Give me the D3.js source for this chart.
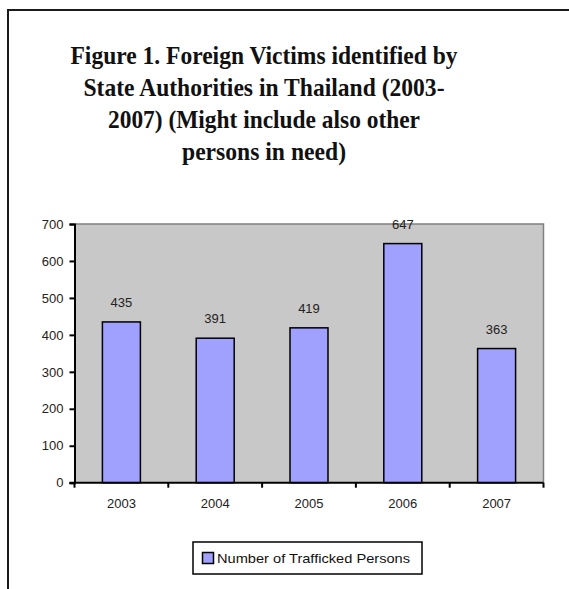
<!DOCTYPE html>
<html><head><meta charset="utf-8">
<script src="https://cdn.jsdelivr.net/npm/d3@7"></script>
<style>html,body{margin:0;padding:0;background:#fff;}
.sans{font-family:"Liberation Sans",Arial,sans-serif;}
.serif{font-family:"Liberation Serif","Times New Roman",serif;}
</style>
</head><body>
<svg id="c" width="569" height="589"></svg>
<script>
const years = ["2003","2004","2005","2006","2007"];
const victims = [435, 391, 419, 647, 363];
const yTicks = [0,100,200,300,400,500,600,700];
const titleLines = ["Figure 1. Foreign Victims identified by","State Authorities in Thailand (2003-","2007) (Might include also other","persons in need)"];
const titleWidths = [387, 361, 312, 164];
const seriesName = "Number of Trafficked Persons";

const svg = d3.select("#c");
// outer frame
svg.append("path").attr("d","M8,589 L8,10 L569,10").attr("fill","none").attr("stroke","#1a1a1a").attr("stroke-width",2);

// title
const title = svg.append("text").attr("class","serif")
  .style("font-weight","bold").style("font-size","25px").attr("fill","#111").attr("text-anchor","middle");
titleLines.forEach((t,i)=>{
  title.append("tspan").attr("x",264).attr("y",64+i*32).text(t)
    .attr("textLength",titleWidths[i]).attr("lengthAdjust","spacingAndGlyphs");
});

const L=74.5, R=543.5, T=224, B=482.7;
const x = d3.scaleBand().domain(years).range([L,R]).paddingInner(0.595).paddingOuter(0.2975);
const y = d3.scaleLinear().domain([0,700]).range([B,T]);

// plot area
svg.append("rect").attr("x",L).attr("y",T).attr("width",R-L).attr("height",B-T).attr("fill","#c8c8c8");
svg.append("path").attr("d",`M${L},${T} L${R},${T} L${R},${B}`).attr("fill","none").attr("stroke","#808080").attr("stroke-width",1.5);

// bars
svg.selectAll("rect.bar").data(victims).join("rect").attr("class","bar")
  .attr("x",(d,i)=>x(years[i])).attr("width",x.bandwidth())
  .attr("y",d=>y(d)).attr("height",d=>B-y(d))
  .attr("fill","#a0a0ff").attr("stroke","#000").attr("stroke-width",1.5);

// value labels
svg.selectAll("text.val").data(victims).join("text").attr("class","val sans")
  .attr("x",(d,i)=>x(years[i])+x.bandwidth()/2).attr("y",d=>y(d)-15)
  .attr("text-anchor","middle").style("font-size","13px").attr("fill","#222").text(d=>d);

// y axis
const yAxis = svg.append("g").attr("transform",`translate(${L},0)`)
  .call(d3.axisLeft(y).tickValues(yTicks).tickSize(5).tickPadding(6).tickFormat(d3.format("d")));
yAxis.select(".domain").attr("stroke","#000").attr("stroke-width",2);
yAxis.selectAll(".tick line").attr("stroke","#000").attr("stroke-width",2);
yAxis.selectAll(".tick text").attr("class","sans").style("font-size","13px").attr("fill","#222");

// x axis
const xAxis = svg.append("g").attr("transform",`translate(0,${B})`)
  .call(d3.axisBottom(x).tickSize(0).tickPadding(16));
xAxis.select(".domain").remove();
xAxis.selectAll(".tick text").attr("class","sans").style("font-size","13px").attr("fill","#222");
svg.append("line").attr("x1",L-5).attr("x2",R).attr("y1",B).attr("y2",B).attr("stroke","#000").attr("stroke-width",2);
const step = x.step();
svg.selectAll("line.xt").data(d3.range(years.length+1)).join("line").attr("class","xt")
  .attr("x1",i=>L+i*step).attr("x2",i=>L+i*step).attr("y1",B).attr("y2",B+5)
  .attr("stroke","#000").attr("stroke-width",2);

// legend
const lg = svg.append("g");
lg.append("rect").attr("x",193).attr("y",542).attr("width",229).attr("height",32).attr("fill","#fff").attr("stroke","#000").attr("stroke-width",1.5);
lg.append("rect").attr("x",202.5).attr("y",552.5).attr("width",11).attr("height",11).attr("fill","#a0a0ff").attr("stroke","#000").attr("stroke-width",1.5);
lg.append("text").attr("class","sans").attr("x",217).attr("y",563)
  .style("font-size","13px").attr("fill","#111").attr("textLength",193).attr("lengthAdjust","spacingAndGlyphs").text(seriesName);
</script>
</body></html>
